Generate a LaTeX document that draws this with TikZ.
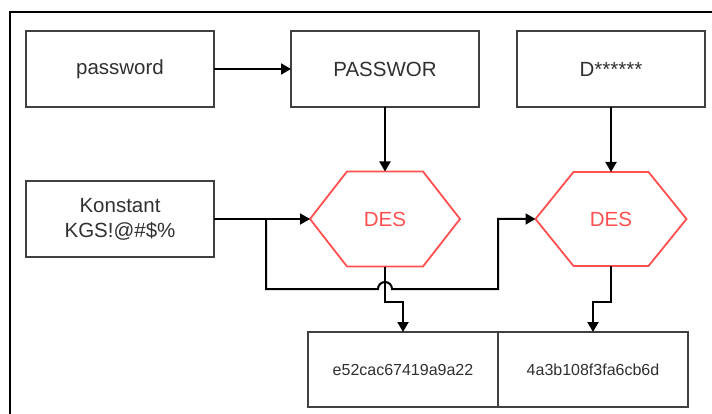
\documentclass[tikz,border=0pt]{standalone}
\usepackage{fontspec}
\setmainfont{Liberation Sans}
\usetikzlibrary{arrows.meta}
\definecolor{boxline}{HTML}{404040}
\definecolor{txt}{HTML}{303030}
\definecolor{desred}{HTML}{FF4F4F}
\begin{document}
\begin{tikzpicture}[x=1pt,y=-1pt,
  box/.style={draw=boxline,line width=2pt,rectangle,outer sep=0pt,inner sep=2pt,
    minimum width=188pt,minimum height=76pt,text=txt,align=center,
    font=\fontsize{20.5}{25}\selectfont},
  hashbox/.style={box,minimum width=190pt,minimum height=75pt,font=\fontsize{16}{19}\selectfont},
  hexnode/.style={rectangle,outer sep=0pt,inner sep=0pt,minimum width=150pt,
    minimum height=95pt,text=desred,font=\fontsize{20.5}{25}\selectfont},
  hexline/.style={draw=desred,line width=1.8pt,line join=miter},
  conn/.style={draw=black,line width=2pt,-{Triangle[length=10pt,width=11pt]}},
]
\useasboundingbox (0,0) rectangle (712,414);
\draw[line width=2.4pt] (10,414) -- (10,12) -- (712,12);

\node[box] (pw)  at (120,69) {password};
\node[box] (pwr) at (385,69) {PASSWOR};
\node[box] (dst) at (611,69) {D******};
\node[box] (kon) at (120,219) {Konstant\\KGS!@\#\$\%};

\node[hexnode] (des1) at (385,219) {DES};
\node[hexnode,minimum width=151pt,minimum height=94pt] (des2) at (611,219) {DES};
\draw[hexline] ([xshift=37pt]des1.north west) -- ([xshift=-37pt]des1.north east) -- (des1.east)
  -- ([xshift=-37pt]des1.south east) -- ([xshift=37pt]des1.south west) -- (des1.west) -- cycle;
\draw[hexline] ([xshift=38pt]des2.north west) -- ([xshift=-38pt]des2.north east) -- (des2.east)
  -- ([xshift=-38pt]des2.south east) -- ([xshift=38pt]des2.south west) -- (des2.west) -- cycle;

\node[hashbox] (h1) at (403,369.5) {e52cac67419a9a22};
\node[hashbox] (h2) at (593,369.5) {4a3b108f3fa6cb6d};

\draw[conn] (pw.east) -- (pwr.west);
\draw[conn] (pwr.south) -- (pwr.south |- des1.north);
\draw[conn] (dst.south) -- (dst.south |- des2.north);
\draw[conn] (kon.east) -- (des1.west);

\coordinate (b1) at (266,219);
\coordinate (low) at (266,289);
\coordinate (up) at (498,289);
\draw[conn] (b1) -- (low) -- ([xshift=-7pt]des1.south |- low)
  arc[start angle=180,end angle=0,radius=7pt] -- (up) |- (des2.west);

\draw[conn] (des1.south) -- ++(0,35.5) -| (h1.north);
\draw[conn] (des2.south) -- ++(0,36) -| (h2.north);
\end{tikzpicture}
\end{document}
